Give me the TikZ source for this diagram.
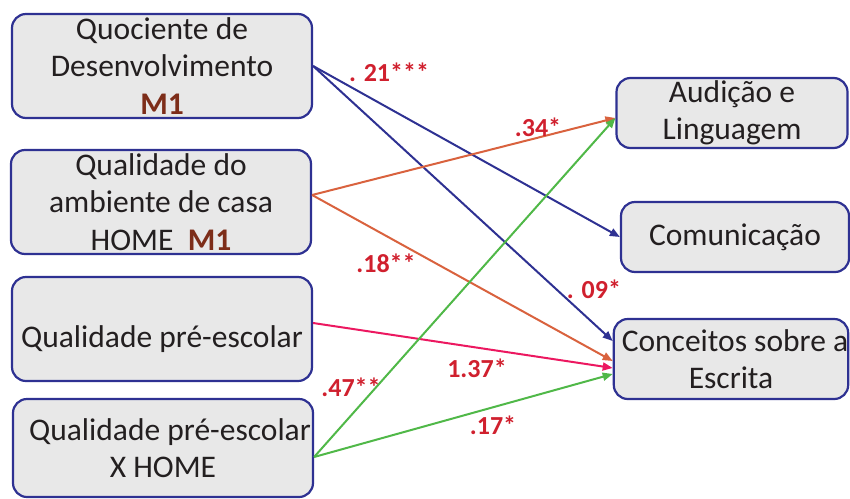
\documentclass[tikz,border=0pt]{standalone}
\usepackage{fontspec}
\setmainfont{Carlito}
\usepackage{tikz}
\usetikzlibrary{arrows.meta}

\definecolor{boxblue}{RGB}{46,49,146}
\definecolor{boxgray}{RGB}{232,232,232}
\definecolor{txtdark}{RGB}{35,31,32}
\definecolor{coefred}{RGB}{208,32,46}
\definecolor{monebrown}{RGB}{125,45,25}
\definecolor{pathblue}{RGB}{46,49,146}
\definecolor{pathorange}{RGB}{217,98,62}
\definecolor{pathpink}{RGB}{236,24,96}
\definecolor{pathgreen}{RGB}{80,184,72}

\tikzset{
  varbox/.style={draw=boxblue, line width=2.2pt, fill=boxgray, rounded corners=14pt,
    align=center, inner sep=0pt, text=txtdark,
    font=\fontsize{31.5}{37.5}\selectfont},
  coef/.style={text=coefred, font=\fontsize{26}{28}\selectfont\bfseries, inner sep=0pt},
  path/.style={line width=2pt, -{Triangle[length=10pt,width=8pt]}}
}

\begin{document}
\begin{tikzpicture}[x=1pt,y=-1pt]
    \useasboundingbox (0,0) rectangle (850,498);

    % predictors on the left
    \node[varbox, minimum width=300pt, minimum height=104pt] (qd) at (162,66)
      {Quociente de\\Desenvolvimento\\{\bfseries\color{monebrown}M1}};
    \node[varbox, minimum width=300pt, minimum height=104pt] (home) at (161,202)
      {Qualidade do\\ambiente de casa\\HOME\ \ {\bfseries\color{monebrown}M1}};
    \node[varbox, minimum width=300pt, minimum height=104pt] (pre) at (162,329)
      {\raisebox{-18pt}[0pt][0pt]{Qualidade pré-escolar}};
    \node[varbox, minimum width=300pt, minimum height=98pt] (prehome) at (163,448)
      {\hspace*{14pt}Qualidade pré-escolar\\X HOME};

    % outcomes on the right
    \node[varbox, minimum width=231pt, minimum height=70pt] (aud) at (732,113)
      {Audição e\\Linguagem};
    \node[varbox, minimum width=228pt, minimum height=70pt] (com) at (735,237)
      {Comunicação};
    \node[varbox, minimum width=230pt, minimum height=80pt] (con) at (731,359)
      {\hspace*{8pt}Conceitos sobre a\\Escrita};

    % paths from the development quotient
    \draw[path, pathblue] (qd.east) -- (com.west);
    \draw[path, pathblue] (qd.east) -- ([yshift=18pt]con.west);

    % paths from HOME
    \draw[path, pathorange] ([yshift=7pt]home.east) -- ([yshift=-5pt]aud.west);
    \draw[path, pathorange] ([yshift=7pt]home.east) -- ([yshift=-2pt]con.west);

    % path from pre-school quality
    \draw[path, pathpink] ([yshift=6pt]pre.east) -- ([yshift=-9pt]con.west);

    % paths from the interaction
    \draw[path, pathgreen] ([yshift=-9pt]prehome.east) -- ([yshift=-5pt]aud.west);
    \draw[path, pathgreen] ([yshift=-9pt]prehome.east) -- ([yshift=-15pt]con.west);

    % coefficients
    \node[coef] (c21) at (389,72) {. 21***};
    \node[coef] (c34) at (538,127) {.34*};
    \node[coef] (c18) at (386,263) {.18**};
    \node[coef] (c09) at (594,289) {. 09*};
    \node[coef] (c137) at (477,368) {1.37*};
    \node[coef] (c47) at (351,387) {.47**};
    \node[coef] (c17) at (493,425) {.17*};

  \end{tikzpicture}
\end{document}
